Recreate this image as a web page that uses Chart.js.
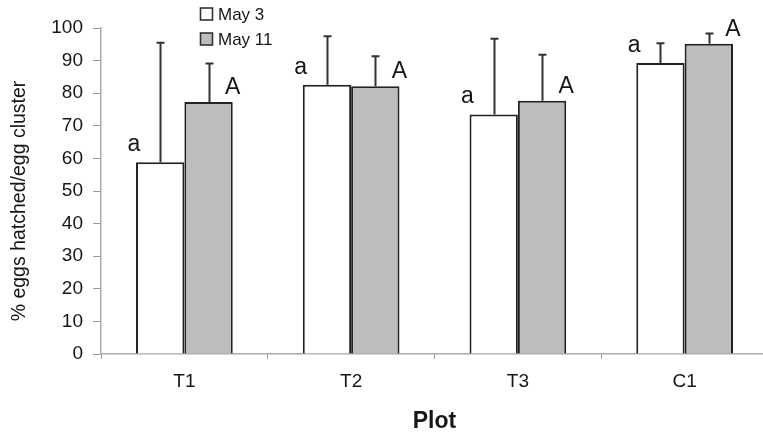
<!DOCTYPE html>
<html>
<head>
<meta charset="utf-8">
<script src="https://cdn.jsdelivr.net/npm/chart.js@4/dist/chart.umd.min.js"></script>
<style>
  html, body { margin: 0; padding: 0; background: #fff; overflow: hidden; }
  #wrap { width: 768px; height: 437px; }
</style>
</head>
<body>
<div id="wrap"><canvas id="c" width="768" height="437"></canvas></div>
<script>
// Egg hatching per plot, two survey dates
const plots = ['T1', 'T2', 'T3', 'C1'];
const may3 = [58.8, 82.6, 73.5, 89.3];
const may11 = [77.3, 82.1, 77.7, 95.2];
// upper error (SD) for each bar
const may3Err = [36.7, 14.9, 23.2, 6.0];
const may11Err = [11.8, 9.2, 14.1, 3.1];
// significance letters
const may3Letters = ['a', 'a', 'a', 'a'];
const may11Letters = ['A', 'A', 'A', 'A'];
const yTicks = [0, 10, 20, 30, 40, 50, 60, 70, 80, 90, 100];
const yTitle = '% eggs hatched/egg cluster';

const FONT = "'Liberation Sans', Arial, sans-serif";
const INK = '#161616';

const errorBars = {
  id: 'errorBars',
  afterDatasetsDraw(chart) {
    const ctx = chart.ctx;
    const y = chart.scales.y;
    const errs = [may3Err, may11Err];
    const vals = [may3, may11];
    const letters = [may3Letters, may11Letters];
    ctx.save();
    chart.data.datasets.forEach((ds, di) => {
      const meta = chart.getDatasetMeta(di);
      meta.data.forEach((bar, i) => {
        const x = Math.round(bar.x) + 0.5;
        const yTop = y.getPixelForValue(vals[di][i]);
        const yErr = y.getPixelForValue(vals[di][i] + errs[di][i]);
        ctx.strokeStyle = '#333';
        ctx.lineWidth = 2;
        ctx.beginPath();
        ctx.moveTo(x, yTop);
        ctx.lineTo(x, yErr);
        ctx.moveTo(x - 4, yErr);
        ctx.lineTo(x + 4, yErr);
        ctx.stroke();
        // significance letters
        ctx.fillStyle = INK;
        ctx.font = '23px ' + FONT;
        ctx.textAlign = 'center';
        ctx.textBaseline = 'alphabetic';
        if (di === 0) {
          ctx.fillText(letters[di][i], bar.x - bar.width / 2 - 2, yTop - 11);
        } else {
          ctx.fillText(letters[di][i], bar.x + 24, yTop - 8);
        }
      });
    });
    ctx.restore();
  }
};

const legendBox = {
  id: 'legendBox',
  afterDraw(chart) {
    const ctx = chart.ctx;
    const items = [
      { label: 'May 3', fill: '#ffffff', y: 14 },
      { label: 'May 11', fill: '#bdbdbd', y: 39 }
    ];
    ctx.save();
    ctx.font = '17px ' + FONT;
    ctx.textBaseline = 'middle';
    ctx.textAlign = 'left';
    items.forEach(it => {
      ctx.fillStyle = it.fill;
      ctx.fillRect(200.5, it.y - 6, 12, 12);
      ctx.strokeStyle = '#333';
      ctx.lineWidth = 1.6;
      ctx.strokeRect(200.5, it.y - 6, 12, 12);
      ctx.fillStyle = INK;
      ctx.fillText(it.label, 218, it.y + 1);
    });
    // rotated value-axis title
    ctx.save();
    ctx.translate(20, 201);
    ctx.rotate(-Math.PI / 2);
    ctx.font = '19.5px ' + FONT;
    ctx.textAlign = 'center';
    ctx.fillStyle = INK;
    ctx.fillText(yTitle, 0, 0);
    ctx.restore();
    ctx.restore();
  }
};

new Chart(document.getElementById('c'), {
  type: 'bar',
  data: {
    labels: plots,
    datasets: [
      { label: 'May 3', data: may3, backgroundColor: '#ffffff', borderColor: '#222', borderWidth: 2, borderSkipped: 'bottom' },
      { label: 'May 11', data: may11, backgroundColor: '#bdbdbd', borderColor: '#222', borderWidth: 2, borderSkipped: 'bottom' }
    ]
  },
  options: {
    responsive: false,
    animation: false,
    events: [],
    layout: { padding: { top: 28, right: 0, left: 4, bottom: 0 } },
    datasets: { bar: { categoryPercentage: 0.58, barPercentage: 1.0 } },
    plugins: { legend: { display: false }, tooltip: { enabled: false } },
    scales: {
      x: {
        offset: true,
        grid: { display: true, drawOnChartArea: false, offset: true, color: '#aaa', tickLength: 5, tickColor: '#999' },
        border: { display: true, color: '#aaa', width: 1.5 },
        ticks: { color: INK, font: { family: FONT, size: 19 }, padding: 11 },
        title: { display: true, text: 'Plot', color: INK, font: { family: FONT, size: 23, weight: 'bold' }, padding: { top: 8, bottom: 2 } },
        afterFit(s) { s.height = 83; }
      },
      y: {
        min: 0, max: 100,
        afterBuildTicks(s) { s.ticks = yTicks.map(v => ({ value: v })); },
        grid: { display: true, drawOnChartArea: false, color: '#aaa', tickLength: 8, tickColor: '#999' },
        border: { display: true, color: '#aaa', width: 1.5 },
        ticks: { color: INK, font: { family: FONT, size: 19 }, padding: 10 },
        afterFit(s) { s.width = 97; }
      }
    }
  },
  plugins: [errorBars, legendBox]
});
</script>
</body>
</html>
